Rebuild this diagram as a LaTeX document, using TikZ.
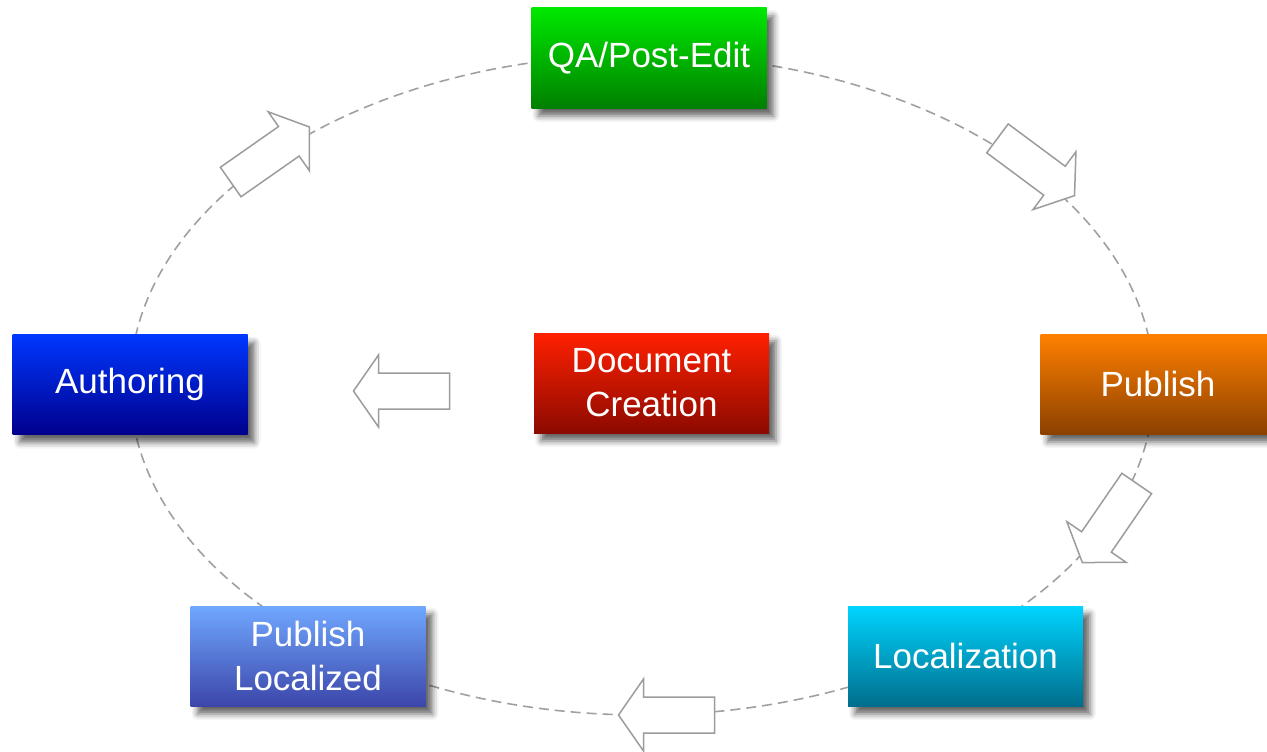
\documentclass[tikz,border=0pt]{standalone}
\usepackage{fontspec}
\setmainfont{Liberation Sans}
\usetikzlibrary{shadows.blur}
\definecolor{cyclegray}{HTML}{A0A0A0}
\definecolor{arrowgray}{HTML}{9C9C9C}
\tikzset{
  stagebox/.style={rectangle, inner sep=0pt, minimum width=235pt, minimum height=100pt,
    text=white, align=center, font=\fontsize{35}{44}\selectfont,
    blur shadow={shadow xshift=7pt, shadow yshift=-8pt, shadow blur radius=6pt, shadow opacity=60}},
  cycleline/.style={draw=cyclegray, line width=1.6pt, dash pattern=on 10pt off 6pt},
  openarrow/.style={draw=arrowgray, fill=white, line width=1.5pt, line join=miter},
}
\begin{document}
\begin{tikzpicture}[x=1pt,y=-1pt]
\useasboundingbox (0,0) rectangle (1267,752);
% dashed cycle
\draw[cycleline] (642,385) ellipse [x radius=512pt, y radius=330pt];
% open block arrows
\foreach \cx/\cy/\ang in {270/154.5/35, 1036/167/-36.6, 1109.5/523/235.5, 666.5/715/180, 401.5/391/180}{
  \draw[openarrow, shift={(\cx,\cy)}, rotate=\ang]
    (-48,-18) -- (23,-18) -- (23,-36) -- (48,0) -- (23,36) -- (23,18) -- (-48,18) -- cycle;
}
% stages
\node[stagebox, top color={rgb,255:red,0;green,232;blue,0}, bottom color={rgb,255:red,0;green,128;blue,0}]
  (qa) at (649,58) {QA/Post-Edit};
\node[stagebox, top color={rgb,255:red,0;green,55;blue,255}, bottom color={rgb,255:red,0;green,0;blue,140}]
  (auth) at (130,384.5) {Authoring};
\node[stagebox, top color={rgb,255:red,255;green,32;blue,0}, bottom color={rgb,255:red,140;green,10;blue,0}]
  (doc) at (651.5,383) {Document\\Creation};
\node[stagebox, top color={rgb,255:red,255;green,128;blue,0}, bottom color={rgb,255:red,140;green,65;blue,0}]
  (pub) at (1158,384) {Publish};
\node[stagebox, top color={rgb,255:red,0;green,212;blue,255}, bottom color={rgb,255:red,0;green,110;blue,140}]
  (loc) at (965.5,656) {Localization};
\node[stagebox, top color={rgb,255:red,112;green,168;blue,255}, bottom color={rgb,255:red,60;green,70;blue,170}]
  (publoc) at (308,656) {Publish\\Localized};
\end{tikzpicture}
\end{document}
